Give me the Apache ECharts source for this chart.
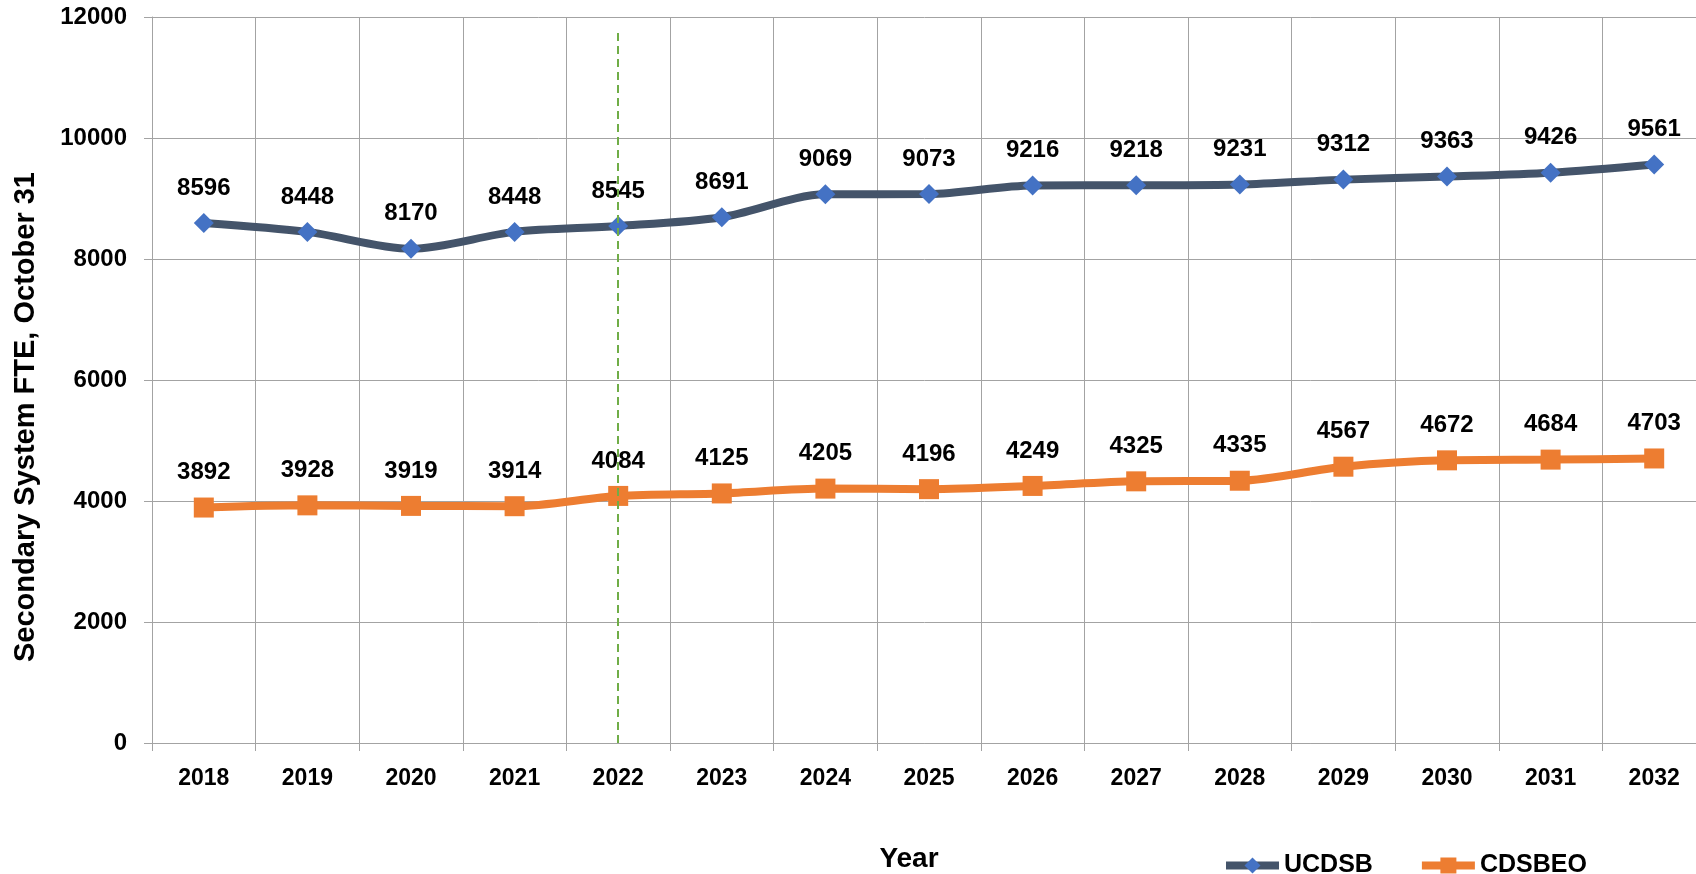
<!DOCTYPE html>
<html>
<head>
<meta charset="utf-8">
<title>Secondary System FTE</title>
<script src="https://cdn.jsdelivr.net/npm/echarts@6/dist/echarts.min.js"></script>
<style>
  html, body { margin: 0; padding: 0; background: #fff; }
  #chart { width: 1696px; height: 874px; }
</style>
</head>
<body>
<div id="chart"></div>
<script>
const years = ["2018", "2019", "2020", "2021", "2022", "2023", "2024", "2025", "2026", "2027", "2028", "2029", "2030", "2031", "2032"]
const ucdsb = [8596, 8448, 8170, 8448, 8545, 8691, 9069, 9073, 9216, 9218, 9231, 9312, 9363, 9426, 9561]
const cdsbeo = [3892, 3928, 3919, 3914, 4084, 4125, 4205, 4196, 4249, 4325, 4335, 4567, 4672, 4684, 4703]
const markYear = "2022"

const FONT = "'Liberation Sans', Arial, sans-serif"
const GRID_COLOR = "#a3a3a3"

const labelStyle = {
  show: true,
  position: "top",
  distance: 13,
  color: "#000",
  fontFamily: FONT,
  fontWeight: "bold",
  fontSize: 24
}

const option = {
  animation: false,
  textStyle: { fontFamily: FONT },
  grid: {
    left: 152,
    width: 1554,
    top: 17,
    bottom: 131,
    outerBoundsMode: "none"
  },
  legend: {
    left: 1217,
    top: 848,
    itemGap: 45,
    itemWidth: 53,
    itemHeight: 20,
    textStyle: {
      color: "#000",
      fontFamily: FONT,
      fontWeight: "bold",
      fontSize: 25
    },
    data: [
      { name: "UCDSB", lineStyle: { width: 8 } },
      { name: "CDSBEO", lineStyle: { width: 8 } }
    ]
  },
  graphic: [
    {
      type: "text",
      x: 26,
      y: 417,
      rotation: Math.PI / 2,
      style: {
        text: "Secondary System FTE, October 31",
        fill: "#000",
        font: "bold 29px " + FONT,
        textAlign: "center",
        textVerticalAlign: "middle"
      }
    },
    {
      type: "text",
      x: 909,
      y: 859,
      style: {
        text: "Year",
        fill: "#000",
        font: "bold 28px " + FONT,
        textAlign: "center",
        textVerticalAlign: "middle"
      }
    }
  ],
  xAxis: {
    type: "category",
    data: years,
    boundaryGap: true,
    axisLine: { lineStyle: { color: GRID_COLOR, width: 1 } },
    axisTick: { show: true, length: 8, lineStyle: { color: GRID_COLOR } },
    splitLine: { show: true, lineStyle: { color: GRID_COLOR, width: 1 } },
    axisLabel: {
      margin: 24,
      color: "#000",
      fontFamily: FONT,
      fontWeight: "bold",
      fontSize: 23
    }
  },
  yAxis: {
    type: "value",
    min: 0,
    max: 12000,
    interval: 2000,
    axisLine: { show: true, lineStyle: { color: GRID_COLOR, width: 1 } },
    axisTick: { show: true, length: 8, lineStyle: { color: GRID_COLOR } },
    splitLine: { show: true, lineStyle: { color: GRID_COLOR, width: 1 } },
    axisLabel: {
      margin: 25,
      color: "#000",
      fontFamily: FONT,
      fontWeight: "bold",
      fontSize: 24,
      formatter: (value) => String(value)
    }
  },
  series: [
    {
      name: "UCDSB",
      type: "line",
      data: ucdsb,
      smooth: 0.3,
      symbol: "diamond",
      symbolSize: 20,
      lineStyle: { color: "#44546A", width: 8 },
      itemStyle: { color: "#4472C4" },
      label: labelStyle,
      z: 3,
      markLine: {
        silent: true,
        symbol: "none",
        label: { show: false },
        lineStyle: { color: "#70AD47", type: [8, 5], width: 2 },
        data: [
          [
            { coord: [markYear, 0] },
            { coord: [markYear, 11800] }
          ]
        ]
      }
    },
    {
      name: "CDSBEO",
      type: "line",
      data: cdsbeo,
      smooth: 0.3,
      symbol: "rect",
      symbolSize: 20,
      lineStyle: { color: "#ED7D31", width: 8 },
      itemStyle: { color: "#ED7D31" },
      label: labelStyle,
      z: 3
    }
  ]
}

function initChart() {
  const chartInstance = echarts.init(document.getElementById("chart"))
  chartInstance.setOption(option)
  window.addEventListener("resize", () => chartInstance.resize())
}

initChart()
</script>
</body>
</html>
